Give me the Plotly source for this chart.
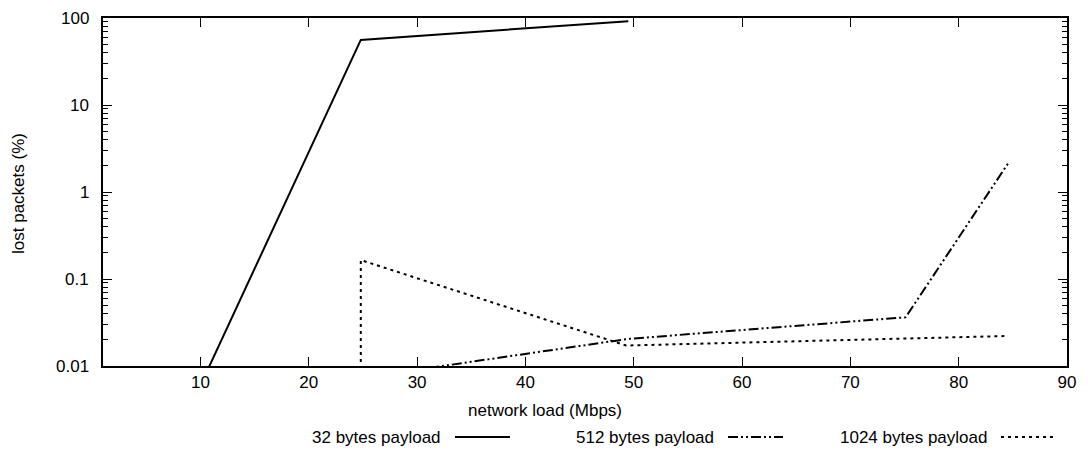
import math
import plotly.graph_objects as go

# Measured packet loss versus offered network load, per payload size
load_32 = [10.0, 24.8, 49.5]
loss_32 = [0.006, 56.0, 92.0]

load_512 = [24.8, 49.5, 75.1, 84.6]
loss_512 = [0.0073, 0.0205, 0.0363, 2.17]

load_1024 = [24.8, 24.8, 49.3, 75.1, 84.3]
loss_1024 = [0.001, 0.165, 0.0172, 0.0204, 0.0221]

series_names = ["32 bytes payload", "512 bytes payload", "1024 bytes payload"]

x_ticks = [10, 20, 30, 40, 50, 60, 70, 80, 90]
y_ticks = [0.01, 0.1, 1, 10, 100]
y_tick_labels = ["0.01", "0.1", "1", "10", "100"]

FONT = "Liberation Sans, Arial, Helvetica, sans-serif"
W, H = 1088, 452
L, R, T, B = 103, 1067, 18, 366  # plot area in pixels

DASHES = ["solid", "10px,3px,2px,3px,2px,3px", "3px,4px"]


def px_to_paper(px, py):
    return (px - L) / (R - L), (B - py) / (B - T)


fig = go.Figure()
for xs, ys, name, dash in zip(
    [load_32, load_512, load_1024],
    [loss_32, loss_512, loss_1024],
    series_names,
    DASHES,
):
    fig.add_trace(
        go.Scatter(
            x=xs, y=ys, mode="lines", name=name,
            line=dict(color="black", width=2, dash=dash),
            showlegend=False,
        )
    )

axis_common = dict(
    showline=True, linecolor="black", linewidth=1.5, mirror="ticks",
    ticks="inside", tickcolor="black", tickwidth=1, ticklen=9,
    showgrid=False, zeroline=False,
    tickfont=dict(family=FONT, size=17, color="black"),
)

fig.update_xaxes(
    range=[1, 90], tickmode="array", tickvals=x_ticks,
    ticktext=[str(v) for v in x_ticks], **axis_common,
)
fig.update_yaxes(
    type="log", range=[-2, 2], tickmode="array", tickvals=y_ticks,
    showticklabels=False,
    minor=dict(ticks="inside", ticklen=5, tickcolor="black", tickwidth=1,
               dtick="D1", showgrid=False),
    **axis_common,
)

annotations = []
# y tick labels, right-aligned a little away from the axis line
label_x, _ = px_to_paper(91, 0)
for v, txt in zip(y_ticks, y_tick_labels):
    annotations.append(dict(text=txt, x=label_x, y=math.log10(v), xref="paper", yref="y",
                            showarrow=False, xanchor="right", yanchor="middle",
                            font=dict(family=FONT, size=17, color="black")))

# axis titles
tx, ty = px_to_paper(545, 410)
annotations.append(dict(text="network load (Mbps)", x=tx, y=ty, xref="paper", yref="paper",
                        showarrow=False, xanchor="center", yanchor="middle",
                        font=dict(family=FONT, size=17, color="black")))
tx, ty = px_to_paper(18, 194)
annotations.append(dict(text="lost packets (%)", x=tx, y=ty, xref="paper", yref="paper",
                        showarrow=False, xanchor="center", yanchor="middle", textangle=-90,
                        font=dict(family=FONT, size=17, color="black")))

# key row below the plot: label followed by a line sample
shapes = []
sample_starts = [455, 728, 1001]
sample_len = 55
key_y = 437
for name, dash, sx in zip(series_names, DASHES, sample_starts):
    x0, y0 = px_to_paper(sx, key_y)
    x1, _ = px_to_paper(sx + sample_len, key_y)
    shapes.append(dict(type="line", xref="paper", yref="paper", x0=x0, x1=x1, y0=y0, y1=y0,
                       line=dict(color="black", width=2, dash=dash)))
    lx, _ = px_to_paper(sx - 12, key_y)
    annotations.append(dict(text=name, x=lx, y=y0, xref="paper", yref="paper",
                            showarrow=False, xanchor="right", yanchor="middle",
                            font=dict(family=FONT, size=17, color="black")))

fig.update_layout(
    width=W, height=H,
    margin=dict(l=L, r=W - R, t=T, b=H - B, pad=0),
    paper_bgcolor="white", plot_bgcolor="white",
    font=dict(family=FONT, size=17, color="black"),
    annotations=annotations, shapes=shapes,
    showlegend=False,
)

fig.write_html("out.html")
